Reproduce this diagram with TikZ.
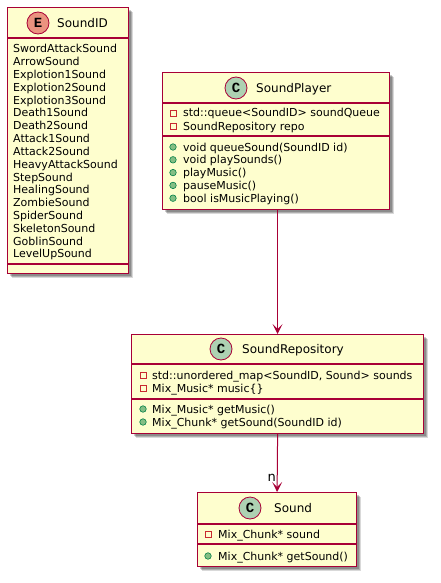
\documentclass[tikz,border=0pt]{standalone}
\usepackage{fontspec}
\setmainfont{DejaVu Sans}
\newfontfamily\iconfont{Liberation Mono}
\usetikzlibrary{arrows.meta}
\definecolor{umlfill}{HTML}{FEFECE}
\definecolor{umlborder}{HTML}{A80036}
\definecolor{classcirc}{HTML}{ADD1B2}
\definecolor{enumcirc}{HTML}{EB937F}
\definecolor{privred}{HTML}{C82930}
\definecolor{pubfill}{HTML}{84BE84}
\definecolor{pubdraw}{HTML}{038048}
\tikzset{
  classbox/.style={draw=umlborder, fill=umlfill, line width=1.2pt, anchor=north west, inner sep=0pt,
    preaction={fill=black, fill opacity=0.15, transform canvas={shift={(4.5pt,-4.5pt)}}},
    preaction={fill=black, fill opacity=0.2, transform canvas={shift={(3.5pt,-3.5pt)}}},
    preaction={fill=black, fill opacity=0.2, transform canvas={shift={(2.5pt,-2.5pt)}}}},
  sepline/.style={draw=umlborder, line width=1.2pt},
  member/.style={anchor=base west, inner sep=0pt, font=\fontsize{11}{13}\selectfont},
  ctitle/.style={anchor=base west, inner sep=0pt, font=\fontsize{12}{14}\selectfont},
  badge/.style={circle, draw=umlborder, line width=0.8pt, minimum size=22pt, inner sep=0pt,
    font=\iconfont\bfseries\fontsize{14}{14}\selectfont},
  privicon/.style={draw=privred, line width=0.8pt, minimum size=6pt, inner sep=0pt},
  pubicon/.style={circle, draw=pubdraw, fill=pubfill, line width=0.6pt, minimum size=6.5pt, inner sep=0pt},
  assoc/.style={draw=umlborder, line width=1pt, -{Stealth[length=10pt, width=10pt, inset=5pt]}}
}
\begin{document}
\begin{tikzpicture}[x=1pt,y=-1pt]
\useasboundingbox (0,0) rectangle (441,583);

% ---------- SoundID (enum) ----------
\node[classbox, minimum width=121pt, minimum height=266pt] (soundid) at (7,7) {};
\draw[sepline] (7,38) -- (128,38);
\draw[sepline] (7,264) -- (128,264);
\node[badge, fill=enumcirc] (soundidbadge) at (38,23) {E};
\node[ctitle] (soundidtitle) at (57,27.5) {SoundID};
\foreach \n [count=\i from 0] in {SwordAttackSound,ArrowSound,Explotion1Sound,Explotion2Sound,Explotion3Sound,Death1Sound,Death2Sound,Attack1Sound,Attack2Sound,HeavyAttackSound,StepSound,HealingSound,ZombieSound,SpiderSound,SkeletonSound,GoblinSound,LevelUpSound}
  \node[member] (sid\i) at (13,53+12.8*\i) {\n};

% ---------- SoundPlayer ----------
\node[classbox, minimum width=227pt, minimum height=137pt] (player) at (162,72) {};
\draw[sepline] (162,103) -- (389,103);
\draw[sepline] (162,136) -- (389,136);
\node[badge, fill=classcirc] (playerbadge) at (236,88) {C};
\node[ctitle] (playertitle) at (256,92.5) {SoundPlayer};
\node[privicon] (pa1i) at (173,113) {};
\node[member] (pa1) at (183,117) {std::queue<SoundID> soundQueue};
\node[privicon] (pa2i) at (173,126) {};
\node[member] (pa2) at (183,130) {SoundRepository repo};
\foreach \t [count=\i from 0] in {void queueSound(SoundID id),void playSounds(),playMusic(),pauseMusic(),bool isMusicPlaying()} {
  \node[pubicon] (pm\i i) at (173,147+12.8*\i) {};
  \node[member] (pm\i) at (183,151+12.8*\i) {\t};
}

% ---------- SoundRepository ----------
\node[classbox, minimum width=292pt, minimum height=99pt] (repo) at (131,334) {};
\draw[sepline] (131,364) -- (423,364);
\draw[sepline] (131,399) -- (423,399);
\node[badge, fill=classcirc] (repobadge) at (221,349) {C};
\node[ctitle] (repotitle) at (242,353.5) {SoundRepository};
\node[privicon] (ra1i) at (143,375) {};
\node[member] (ra1) at (152,379) {std::unordered\_map<SoundID, Sound> sounds};
\node[privicon] (ra2i) at (143,388) {};
\node[member] (ra2) at (152,392) {Mix\_Music* music\{\}};
\node[pubicon] (rm1i) at (143,409) {};
\node[member] (rm1) at (152,413) {Mix\_Music* getMusic()};
\node[pubicon] (rm2i) at (143,422) {};
\node[member] (rm2) at (152,426) {Mix\_Chunk* getSound(SoundID id)};

% ---------- Sound ----------
\node[classbox, minimum width=159pt, minimum height=74pt] (sound) at (197,492) {};
\draw[sepline] (197,524) -- (356,524);
\draw[sepline] (197,544) -- (356,544);
\node[badge, fill=classcirc] (soundbadge) at (250,508) {C};
\node[ctitle] (soundtitle) at (274,512.5) {Sound};
\node[privicon] (sa1i) at (208,534) {};
\node[member] (sa1) at (218,538) {Mix\_Chunk* sound};
\node[pubicon] (sm1i) at (208,556) {};
\node[member] (sm1) at (218,560) {Mix\_Chunk* getSound()};

% ---------- connectors ----------
\draw[assoc] (repo.north |- player.south) -- (repo.north);
\draw[assoc] (repo.south) -- (sound.north);
\node[anchor=base east, inner sep=0pt, font=\fontsize{13}{15}\selectfont] (nlabel) at (276,481) {n};
\end{tikzpicture}
\end{document}
